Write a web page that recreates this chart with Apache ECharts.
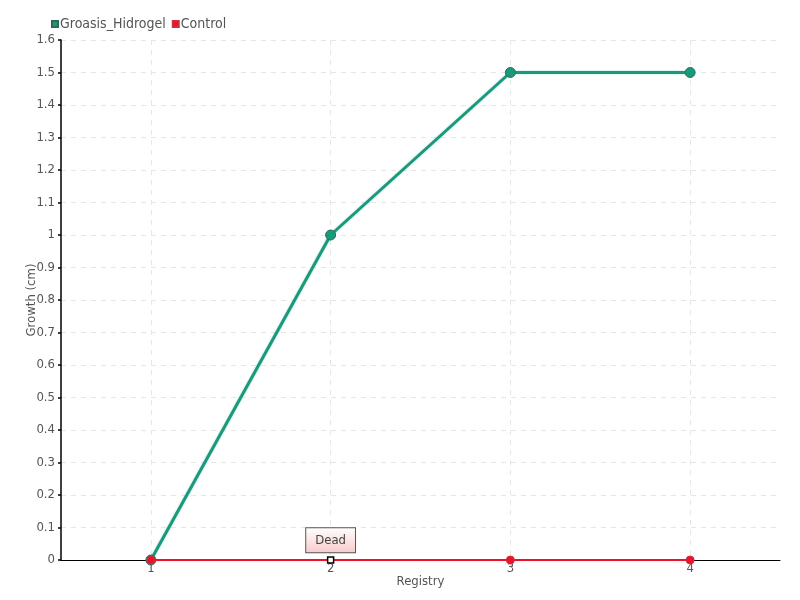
<!DOCTYPE html>
<html><head><meta charset="utf-8">
<script src="https://cdn.jsdelivr.net/npm/echarts@6/dist/echarts.min.js"></script>
<style>html,body{margin:0;padding:0;background:#fff}#c{width:800px;height:600px}</style>
</head><body><div id="c"></div>
<script>
const categories = ['1', '2', '3', '4'];
const hidrogel = [0, 1, 1.5, 1.5];
const control = [0, 0, 0, 0];
const deadIndex = 1;
const deadLabel = 'Dead';

const FONT = 'DejaVu Sans Condensed';
const chart = echarts.init(document.getElementById('c'));
const controlData = control.map((v, i) => i === deadIndex ? {
  value: v,
  symbol: 'rect',
  symbolSize: 6,
  itemStyle: { color: '#fff', borderColor: '#000', borderWidth: 1.5 },
  label: {
    show: true, position: 'top', distance: 4, formatter: deadLabel,
    color: '#444', fontSize: 13, fontFamily: FONT,
    padding: [6, 9, 5, 9],
    borderColor: '#555', borderWidth: 1,
    backgroundColor: new echarts.graphic.LinearGradient(0, 0, 0, 1, [
      { offset: 0, color: '#ffffff' }, { offset: 1, color: '#f8caca' }])
  }
} : v);

chart.setOption({
  animation: false,
  textStyle: { fontFamily: FONT },
  legend: {
    left: 46, top: 12, itemGap: 6, itemWidth: 6, itemHeight: 6, icon: 'rect',
    textStyle: { color: '#555', fontSize: 14, fontFamily: FONT, padding: [0, 0, 0, -3] },
    data: ['Groasis_Hidrogel', 'Control']
  },
  grid: { left: 61, right: 20, top: 40, bottom: 40 },
  xAxis: {
    type: 'category', data: categories, boundaryGap: true,
    name: 'Registry', nameLocation: 'middle', nameGap: 15, nameMoveOverlap: false,
    nameTextStyle: { color: '#555', fontSize: 13, fontFamily: FONT },
    axisLine: { lineStyle: { color: '#000', width: 1 } },
    axisTick: { show: false, alignWithLabel: true },
    axisLabel: { color: '#555', fontSize: 13, margin: 2, fontFamily: FONT },
    splitLine: { show: true, alignWithLabel: true, lineStyle: { color: '#e6e6e6', type: [5, 5] } }
  },
  yAxis: {
    type: 'value', min: 0, max: 1.6, interval: 0.1,
    name: 'Growth (cm)', nameLocation: 'middle', nameGap: 23, nameMoveOverlap: false,
    nameTextStyle: { color: '#555', fontSize: 13, fontFamily: FONT },
    axisLine: { show: true, lineStyle: { color: '#000', width: 1.5 } },
    axisTick: { show: true, length: 3, lineStyle: { color: '#000', width: 1.5 } },
    axisLabel: { color: '#555', fontSize: 13, margin: 6, fontFamily: FONT,
      formatter: v => String(Math.round(v * 10) / 10) },
    splitLine: { show: true, lineStyle: { color: '#e6e6e6', type: [5, 5] } }
  },
  series: [
    {
      name: 'Groasis_Hidrogel', type: 'line', data: hidrogel,
      symbol: 'circle', symbolSize: 10,
      color: '#1a9a7c',
      lineStyle: { color: '#1a9a7c', width: 3, shadowColor: 'rgba(26,154,124,0.4)', shadowBlur: 2 },
      itemStyle: { color: '#1a9a7c', borderColor: '#2c6b58', borderWidth: 1 },
      z: 8
    },
    {
      name: 'Control', type: 'line', data: controlData,
      symbol: 'circle', symbolSize: 8,
      color: '#f0102a',
      lineStyle: { color: '#f0102a', width: 2 },
      itemStyle: { color: '#f0102a', borderColor: '#c8323c', borderWidth: 1 },
      z: 9
    }
  ]
});
</script></body></html>
